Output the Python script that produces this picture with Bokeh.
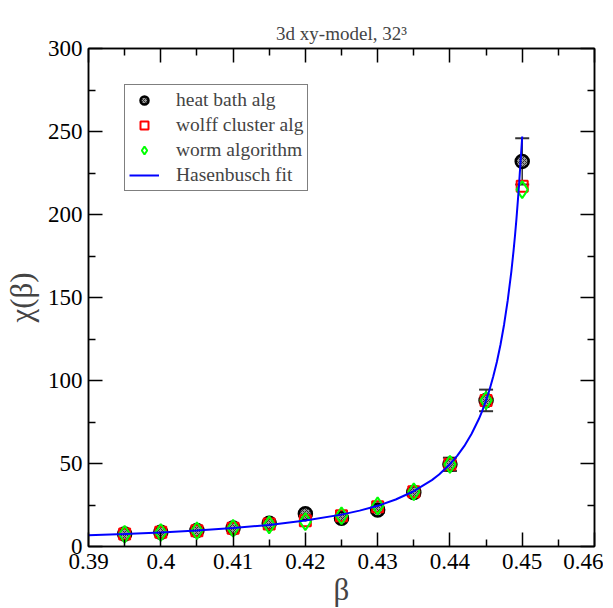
from bokeh.plotting import figure
from bokeh.models import (Range1d, LinearAxis, FixedTicker, Whisker, TeeHead,
                          ColumnDataSource, Legend, LegendItem, CustomJSTickFormatter)
from bokeh.embed import file_html
from bokeh.resources import INLINE

# ---- data ----
beta = [0.395, 0.400, 0.405, 0.410, 0.415, 0.420, 0.425, 0.430, 0.435, 0.440, 0.445, 0.450]
heat_bath = [7.5, 8.6, 9.6, 11.2, 14.0, 19.8, 17.0, 22.0, 32.5, 49.5, 88.0, 232.0]
heat_bath_err = [0.4, 0.4, 0.5, 0.6, 0.9, 1.2, 1.2, 1.6, 2.0, 4.0, 6.5, 14.0]
wolff = [7.5, 8.6, 9.5, 11.0, 13.5, 15.5, 18.5, 24.0, 33.0, 49.5, 88.0, 217.0]
worm = [7.4, 8.4, 9.5, 11.0, 13.0, 15.0, 18.5, 24.5, 33.0, 49.5, 88.0, 215.0]

fit_beta = [0.390, 0.395, 0.400, 0.405, 0.410, 0.415, 0.420, 0.425, 0.4275, 0.430,
            0.4325, 0.435, 0.4375, 0.4385, 0.440, 0.441, 0.442, 0.443, 0.444, 0.4445,
            0.445, 0.4455, 0.446, 0.4465, 0.447, 0.4475, 0.448, 0.4485, 0.4488, 0.449,
            0.4492, 0.4495, 0.4498, 0.450]
fit_chi = [6.8, 7.5, 8.5, 9.6, 11.1, 13.0, 15.6, 19.2, 21.6, 24.5,
           28.3, 33.3, 40.0, 43.4, 49.6, 54.6, 60.6, 67.9, 76.8, 82.0,
           88.0, 94.7, 102.5, 111.3, 121.7, 133.9, 148.4, 165.8, 178.1, 187.2,
           197.2, 214.1, 233.7, 247.0]

x_ticks = [0.39, 0.40, 0.41, 0.42, 0.43, 0.44, 0.45, 0.46]
x_tick_labels = ["0.39", "0.4", "0.41", "0.42", "0.43", "0.44", "0.45", "0.46"]
x_minor = [0.395, 0.405, 0.415, 0.425, 0.435, 0.445, 0.455]
y_ticks = [0, 50, 100, 150, 200, 250, 300]
y_minor = [25, 75, 125, 175, 225, 275]
title_text = "3d xy-model, 32³"

FONT = "Liberation Serif"

p = figure(frame_width=506, frame_height=498,
           x_range=Range1d(0.39, 0.46), y_range=Range1d(0, 300),
           output_backend="svg", toolbar_location=None,
           x_axis_label="β", y_axis_label="χ(β)",
           min_border_left=82, min_border_right=9, min_border_top=48, min_border_bottom=50,
           title=title_text)
p.title.align = "center"
p.title.text_font = FONT
p.title.text_font_size = "19px"
p.title.text_font_style = "normal"
p.grid.visible = False
p.outline_line_color = "black"
p.outline_line_width = 1.5
p.background_fill_color = "white"
p.border_fill_color = "white"

xt = FixedTicker(ticks=x_ticks, minor_ticks=x_minor)
yt = FixedTicker(ticks=y_ticks, minor_ticks=y_minor)

def style_axis(ax, labels=True):
    ax.major_tick_in = 14
    ax.major_tick_out = 0
    ax.minor_tick_in = 7
    ax.minor_tick_out = 0
    ax.axis_line_color = "black"
    ax.axis_line_width = 1.5
    ax.major_tick_line_color = "black"
    ax.minor_tick_line_color = "black"
    ax.major_tick_line_width = 1.5
    ax.minor_tick_line_width = 1.5
    ax.major_label_text_font = FONT
    ax.axis_label_text_font = FONT
    ax.axis_label_text_font_style = "normal"
    if labels:
        ax.major_label_text_font_size = "23px"
        ax.axis_label_text_font_size = "31px"
        ax.major_label_text_color = "black"
    else:
        ax.formatter = CustomJSTickFormatter(code="return ''")
        ax.major_label_standoff = 0

p.xaxis.ticker = xt
p.yaxis.ticker = yt
p.xaxis.major_label_overrides = dict(zip(x_ticks, x_tick_labels))
style_axis(p.xaxis[0])
style_axis(p.yaxis[0])
p.xaxis.major_label_standoff = 7
p.xaxis.axis_label_standoff = 0
p.yaxis.major_label_standoff = 6
p.yaxis.axis_label_standoff = 6

top = LinearAxis(ticker=xt)
style_axis(top, labels=False)
p.add_layout(top, "above")
right = LinearAxis(ticker=yt)
style_axis(right, labels=False)
p.add_layout(right, "right")

# error bars
src_err = ColumnDataSource(dict(
    x=beta,
    lo=[v - e for v, e in zip(heat_bath, heat_bath_err)],
    hi=[v + e for v, e in zip(heat_bath, heat_bath_err)]))
wh = Whisker(source=src_err, base="x", lower="lo", upper="hi",
             line_color="#333333", line_width=1.5,
             upper_head=TeeHead(size=14, line_color="#333333", line_width=2),
             lower_head=TeeHead(size=14, line_color="#333333", line_width=2))
p.add_layout(wh)

r_heat = p.scatter(beta, heat_bath, marker="circle", size=13, line_color="black",
                   line_width=2.5, fill_color="#9a9a9a", hatch_pattern="x",
                   hatch_color="#333333", hatch_scale=4, hatch_weight=1)
r_wolff = p.scatter(beta, wolff, marker="square", size=11, line_color="red",
                    line_width=2, fill_color=None)
r_worm = p.scatter(beta, worm, marker="diamond", size=17,
                   line_color="#00ff00", line_width=2, fill_color=None)
r_fit = p.line(fit_beta, fit_chi, line_color="#0000ff", line_width=2)

legend = Legend(items=[
    LegendItem(label="heat bath alg", renderers=[r_heat]),
    LegendItem(label="wolff cluster alg", renderers=[r_wolff]),
    LegendItem(label="worm algorithm", renderers=[r_worm]),
    LegendItem(label="Hasenbusch fit", renderers=[r_fit]),
], location="top_left")
legend.margin = 36
legend.padding = 4
legend.spacing = 3
legend.glyph_width = 30
legend.glyph_height = 20
legend.label_height = 20
legend.label_standoff = 17
legend.label_text_font = FONT
legend.label_text_font_size = "19.5px"
legend.border_line_color = "black"
legend.border_line_width = 1.5
legend.background_fill_color = "white"
legend.background_fill_alpha = 1
p.add_layout(legend, "center")

open("out.html", "w").write(file_html(p, INLINE))
